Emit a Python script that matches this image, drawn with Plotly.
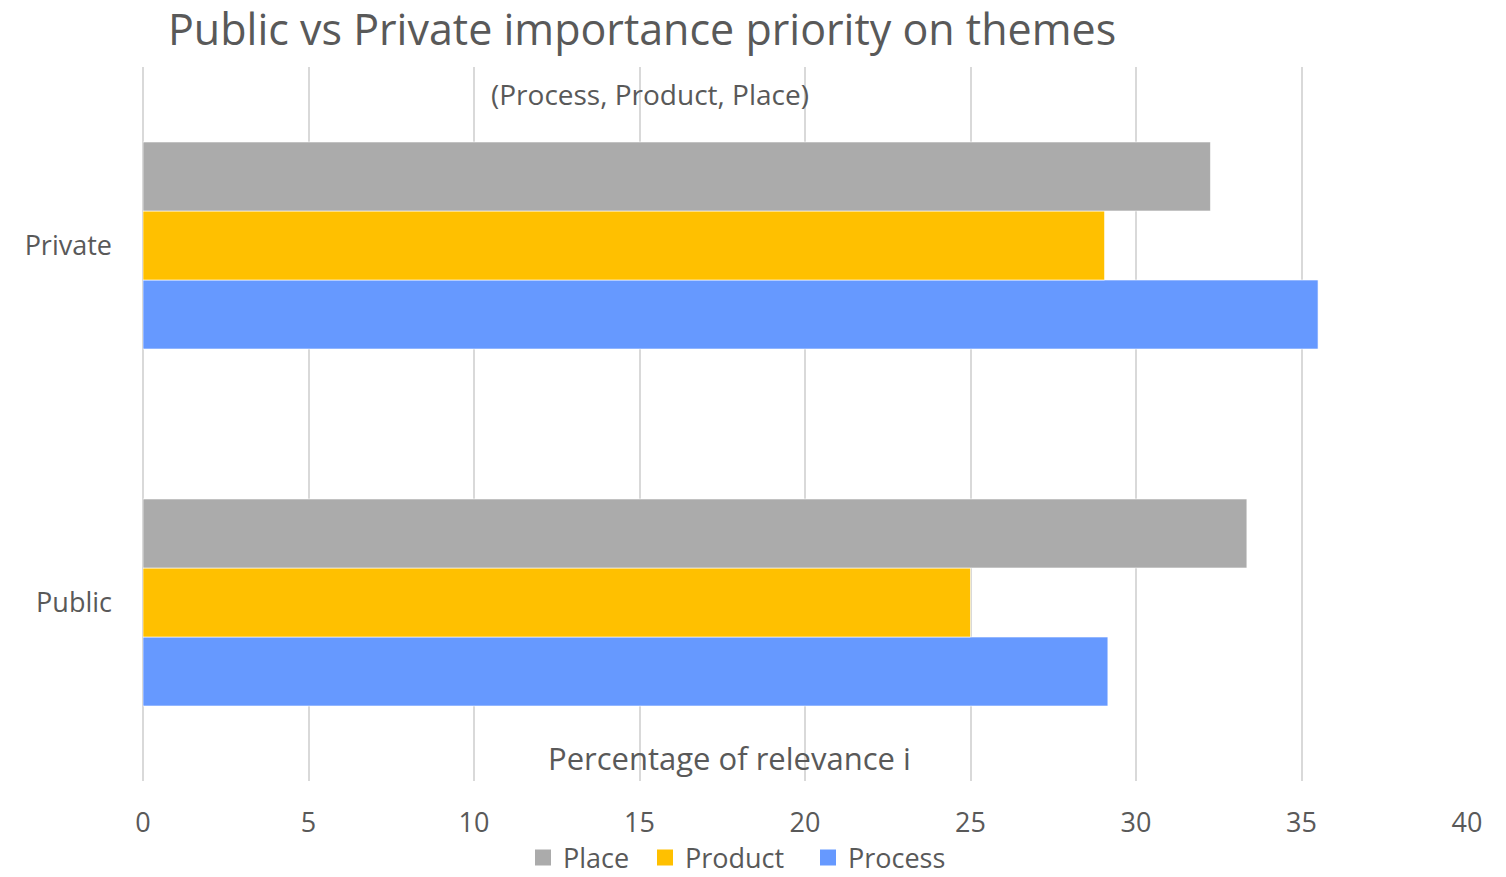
import plotly.graph_objects as go

categories = ["Public", "Private"]
process = [29.15, 35.5]
product = [25.0, 29.05]
place = [33.35, 32.25]
x_ticks = [0, 5, 10, 15, 20, 25, 30, 35, 40]

FONT = "Open Sans"
GREY = "#595959"
series = [("Process", process, "#6699FF"),
          ("Product", product, "#FFC000"),
          ("Place", place, "#ABABAB")]
legend_ids = {"Place": "legend", "Product": "legend2", "Process": "legend3"}
legend_left_px = {"Place": 523, "Product": 645, "Process": 808}

fig = go.Figure()
for name, vals, col in series:
    fig.add_trace(go.Bar(y=categories, x=vals, name=name, orientation="h", showlegend=False,
                         marker=dict(color=col, line=dict(color="rgba(255,255,255,0.6)", width=1))))
# legend entries with larger square swatches
for name, vals, col in series:
    fig.add_trace(go.Scatter(x=[None], y=[None], mode="markers", name=name,
                             legend=legend_ids[name],
                             marker=dict(symbol="square", size=17, color=col)))

def leg(name):
    return dict(orientation="h", x=legend_left_px[name]/1506, xanchor="left",
                xref="container", yref="container", y=1-858/877, yanchor="middle",
                font=dict(size=27, color=GREY), itemwidth=30, bgcolor="rgba(0,0,0,0)")

fig.update_layout(
    width=1506, height=877,
    barmode="group", bargap=0.42, bargroupgap=0,
    plot_bgcolor="white", paper_bgcolor="white",
    margin=dict(l=143, r=39, t=67, b=96, autoexpand=False),
    font=dict(family=FONT, color=GREY, size=27),
    title=dict(text="Public vs Private importance priority on themes",
               x=168/1506, xanchor="left", y=1-30/877, yanchor="middle",
               font=dict(size=43, color=GREY, family=FONT)),
    legend=leg("Place"), legend2=leg("Product"), legend3=leg("Process"),
    showlegend=True,
)
fig.update_xaxes(range=[0, 40], tickvals=x_ticks, showgrid=True, gridcolor="#D9D9D9",
                 gridwidth=1.5, zeroline=True, zerolinecolor="#D9D9D9", zerolinewidth=1.5,
                 ticks="", ticklabelstandoff=23, tickfont=dict(size=27, color=GREY),
                 showline=False, fixedrange=True)
fig.update_yaxes(showgrid=False, ticks="", ticklabelstandoff=30,
                 tickfont=dict(size=27, color=GREY), showline=False)

fig.add_annotation(text="(Process, Product, Place)", xref="paper", yref="paper",
                   x=(650-143)/1324, y=1-(94-67)/714, showarrow=False,
                   font=dict(size=28, color=GREY), xanchor="center", yanchor="middle")
fig.add_annotation(text="Percentage of relevance i", xref="paper", yref="paper",
                   x=(729-143)/1324, y=-(758-781)/714, showarrow=False,
                   font=dict(size=31, color=GREY), xanchor="center", yanchor="middle")

fig.write_html("out.html")
